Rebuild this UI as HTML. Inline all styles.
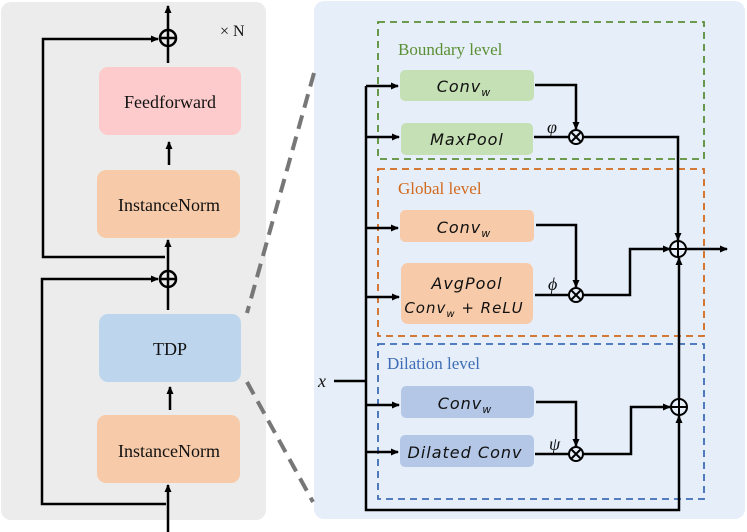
<!DOCTYPE html>
<html><head><meta charset="utf-8"><style>body{margin:0;background:#fff}svg{display:block}</style></head><body>
<svg width="747" height="532" viewBox="0 0 747 532" xmlns="http://www.w3.org/2000/svg" font-family="Liberation Serif, serif">
<defs><marker id="a" markerWidth="8" markerHeight="8" refX="7" refY="4" orient="auto" markerUnits="userSpaceOnUse"><path d="M0,0.5 L8,4 L0,7.5 z" fill="#000"/></marker></defs>
<rect x="1" y="2" width="265" height="518" rx="10" fill="#ececec"/>
<rect x="314" y="1" width="431" height="518" rx="10" fill="#e6eff9"/>
<g fill="none" stroke="#777" stroke-width="4" stroke-dasharray="14,8">
<line x1="314" y1="73" x2="247" y2="313"/><line x1="247" y1="382" x2="313" y2="502"/></g>
<rect x="99" y="67" width="142" height="68" rx="9" fill="#fdcbcb"/>
<rect x="97" y="170" width="143" height="68" rx="9" fill="#f7cba9"/>
<rect x="99" y="314" width="142" height="68" rx="9" fill="#bdd6ed"/>
<rect x="97" y="415" width="143" height="68" rx="9" fill="#f7cba9"/>
<g font-size="18" text-anchor="middle" fill="#111">
<text x="170" y="108">Feedforward</text><text x="169" y="211">InstanceNorm</text>
<text x="170" y="355">TDP</text><text x="169" y="457">InstanceNorm</text></g>
<text x="220" y="36" font-size="16" fill="#111">× N</text>
<g stroke="#000" stroke-width="2.5" fill="none">
<line x1="168" y1="63" x2="168" y2="6" marker-end="url(#a)"/>
<line x1="169" y1="165" x2="169" y2="142" marker-end="url(#a)"/>
<line x1="168" y1="310" x2="168" y2="240" marker-end="url(#a)"/>
<line x1="170" y1="410" x2="170" y2="387" marker-end="url(#a)"/>
<line x1="168" y1="532" x2="168" y2="485" marker-end="url(#a)"/>
<polyline points="165,257 43,257 43,39 158,39" marker-end="url(#a)"/>
<polyline points="166,504 42,504 42,279 158,279" marker-end="url(#a)"/>
<circle cx="168" cy="38" r="8" fill="#ececec"/><path d="M160,38 H176 M168,30 V46"/>
<circle cx="168" cy="279" r="8" fill="#ececec"/><path d="M160,279 H176 M168,271 V287"/>
</g>
<g fill="none" stroke-width="1.8" stroke-dasharray="7,5">
<rect x="378" y="22" width="326" height="137" stroke="#5b8f36"/>
<rect x="378" y="169" width="326" height="167" stroke="#d2691e"/>
<rect x="378" y="344" width="326" height="155" stroke="#3e6db5"/></g>
<text x="398" y="55" font-size="17" fill="#5b8f36">Boundary level</text>
<text x="398" y="194" font-size="17" fill="#d2691e">Global level</text>
<text x="387" y="369" font-size="17" fill="#3e6db5">Dilation level</text>
<rect x="400" y="70" width="134" height="31" rx="5" fill="#c5e0b4"/>
<rect x="401" y="123" width="132" height="32" rx="5" fill="#c5e0b4"/>
<rect x="400" y="210" width="134" height="32" rx="5" fill="#f7cba9"/>
<rect x="401" y="263" width="132" height="61" rx="7" fill="#f7cba9"/>
<rect x="401" y="386" width="133" height="32" rx="5" fill="#b4c7e7"/>
<rect x="400" y="435" width="134" height="32" rx="5" fill="#b4c7e7"/>
<g font-family="DejaVu Sans, sans-serif" font-style="italic" font-size="16" text-anchor="middle" fill="#111" letter-spacing="1">
<text x="464" y="92">Conv<tspan font-size="11" dy="4">w</tspan></text>
<text x="467" y="145">MaxPool</text>
<text x="464" y="233">Conv<tspan font-size="11" dy="4">w</tspan></text>
<text x="467" y="289">AvgPool</text>
<text x="464" y="313" font-size="15">Conv<tspan font-size="10" dy="4">w</tspan><tspan dy="-4"> + ReLU</tspan></text>
<text x="465" y="409">Conv<tspan font-size="11" dy="4">w</tspan></text>
<text x="465" y="458">Dilated Conv</text></g>
<g font-style="italic" font-size="18" fill="#111">
<text x="547" y="133">φ</text><text x="548" y="290">ϕ</text><text x="549" y="450">ψ</text><text x="318" y="387">x</text></g>
<g stroke="#000" stroke-width="2.5" fill="none">
<line x1="334" y1="381" x2="366" y2="381"/>
<polyline points="366,86 366,510 679,510 679,416" marker-end="url(#a)"/>
<line x1="366" y1="86" x2="398" y2="86" marker-end="url(#a)"/>
<line x1="366" y1="137" x2="399" y2="137" marker-end="url(#a)"/>
<line x1="366" y1="228" x2="398" y2="228" marker-end="url(#a)"/>
<line x1="366" y1="297" x2="399" y2="297" marker-end="url(#a)"/>
<line x1="366" y1="405" x2="399" y2="405" marker-end="url(#a)"/>
<line x1="366" y1="452" x2="398" y2="452" marker-end="url(#a)"/>
<polyline points="535,85 576,85 576,129" marker-end="url(#a)"/>
<line x1="534" y1="137" x2="569" y2="137"/>
<polyline points="583,137 678,137 678,240" marker-end="url(#a)"/>
<polyline points="536,225 576,225 576,287" marker-end="url(#a)"/>
<line x1="535" y1="295" x2="569" y2="295"/>
<polyline points="583,295 630,295 630,249 670,249" marker-end="url(#a)"/>
<line x1="686" y1="249" x2="727" y2="249" marker-end="url(#a)"/>
<polyline points="536,402 576,402 576,446" marker-end="url(#a)"/>
<line x1="535" y1="454" x2="569" y2="454"/>
<polyline points="583,454 631,454 631,407 670,407" marker-end="url(#a)"/>
<line x1="679" y1="399" x2="679" y2="258" marker-end="url(#a)"/>
<g fill="#e6eff9" stroke-width="2">
<circle cx="576" cy="137" r="7"/><circle cx="576" cy="295" r="7"/><circle cx="576" cy="454" r="7"/>
<circle cx="678" cy="249" r="8"/><circle cx="679" cy="407" r="8"/></g>
<g stroke-width="2">
<path d="M571,132 L581,142 M581,132 L571,142"/><path d="M571,290 L581,300 M581,290 L571,300"/><path d="M571,449 L581,459 M581,449 L571,459"/>
<path d="M670,249 H686 M678,241 V257"/><path d="M671,407 H687 M679,399 V415"/></g>
</g>
</svg>
</body></html>
